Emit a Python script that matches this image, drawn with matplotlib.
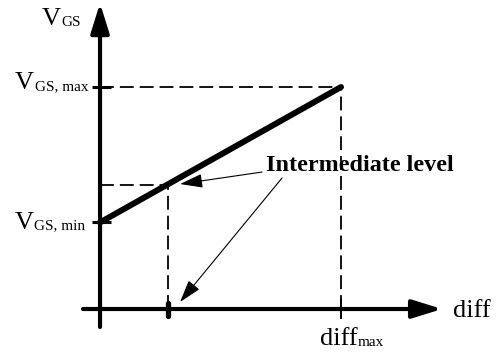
import matplotlib
matplotlib.use('Agg')
import matplotlib.pyplot as plt

# ---- schematic values (normalised: diff_max = 1, V_GS,max = 1) ----
diff_max = 1.0
vgs_min = 0.39
vgs_max = 1.0
diff_mid = 0.28     # intermediate diff
vgs_mid = 0.56      # intermediate V_GS level

plt.rcParams['font.family'] = 'Liberation Serif'
plt.rcParams['lines.scale_dashes'] = False

fig = plt.figure(figsize=(4.97, 3.54), dpi=100)
ax = fig.add_axes([0, 0, 1, 1])
ax.set_xlim(-0.415, 1.647)
ax.set_ylim(-0.2027, 1.392)
ax.axis('off')

k = 'black'
dash = dict(color=k, lw=1.3, ls=(0, (10, 4.3)), dash_capstyle='butt')


def axis_arrow(p0, p1):
    ax.annotate('', xy=p1, xytext=p0,
                arrowprops=dict(arrowstyle='-|>,head_length=18,head_width=5.6',
                                lw=3, color=k, shrinkA=0, shrinkB=0,
                                mutation_scale=1))


def pointer(tail, tip):
    ax.annotate('', xy=tip, xytext=tail,
                arrowprops=dict(arrowstyle='-|>,head_length=14,head_width=4.3',
                                lw=0.8, color=k, shrinkA=0, shrinkB=0,
                                mutation_scale=1))


def label_left(xy, main, sub, dx, dy):
    # main letter, subscript right after it
    m = ax.annotate(main, xy=xy, xytext=(dx, dy), textcoords='offset points',
                    ha='left', va='baseline', fontsize=19)
    ax.annotate(sub, xy=(1, 0), xycoords=m, xytext=(0.3, 1.0),
                textcoords='offset points', ha='left', va='bottom', fontsize=11)


def label_right(xy, main, sub, dx, dy):
    s = ax.annotate(sub, xy=xy, xytext=(dx, dy), textcoords='offset points',
                    ha='right', va='baseline', fontsize=11)
    ax.annotate(main, xy=(0, 0), xycoords=s, xytext=(-0.3, -1.0),
                textcoords='offset points', ha='right', va='bottom', fontsize=19)


# axes with arrows
x_tip = 1.419
y_tip = 1.378
axis_arrow((-0.0705, 0), (x_tip, 0))
axis_arrow((0, -0.081), (0, y_tip))

# guide lines
ax.plot([0, diff_max], [vgs_max, vgs_max], **dash)
ax.plot([diff_max, diff_max], [0, vgs_max], **dash)
ax.plot([0, diff_mid], [vgs_mid, vgs_mid], **dash)
ax.plot([diff_mid, diff_mid], [0, vgs_mid], **dash)

# ticks
for v in (vgs_min, vgs_max):
    ax.plot([-0.033, 0.046], [v, v], color=k, lw=2.2, solid_capstyle='butt')
ax.plot([diff_max, diff_max], [0.04, -0.04], color=k, lw=1.4)
ax.plot([diff_mid, diff_mid], [0.027, -0.03], color=k, lw=3.8,
        solid_capstyle='round')

# V_GS vs diff
ax.plot([0, diff_max], [vgs_min, vgs_max], color=k, lw=4.3,
        solid_capstyle='round')

# labels
label_left((0, y_tip), 'V', 'GS', -41.8, -15.8)
label_right((0, vgs_max), 'V', 'GS, max', -8.6, -2.2)
label_right((0, vgs_min), 'V', 'GS, min', -10.8, -5.0)
ax.annotate('diff', xy=(x_tip, 0), xytext=(7.9, -5.8), textcoords='offset points',
            ha='left', va='baseline', fontsize=19)
label_left((diff_max, 0), 'diff', 'max', -15.1, -25.9)

ax.text(0.689, 0.622, 'Intermediate level', fontsize=17.4, fontweight='bold',
        ha='left', va='baseline')
pointer((0.672, 0.617), (0.332, 0.563))
pointer((0.755, 0.590), (0.332, 0.0315))

fig.savefig('out.png', dpi=100)
